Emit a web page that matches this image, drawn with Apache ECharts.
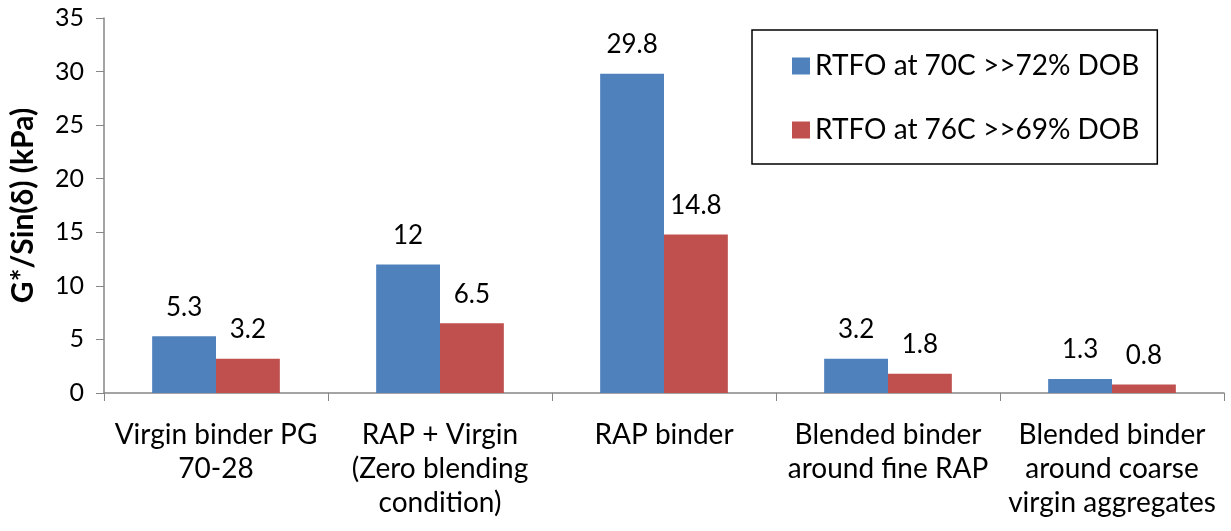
<!DOCTYPE html>
<html><head><meta charset="utf-8">
<script src="https://cdn.jsdelivr.net/npm/echarts@6/dist/echarts.min.js"></script>
<style>html,body{margin:0;padding:0;background:#fff}#c{width:1231px;height:531px}</style>
</head><body><div id="c"></div>
<script>
const categories = ["Virgin binder PG\n70-28", "RAP + Virgin\n(Zero blending\ncondition)", "RAP binder", "Blended binder\naround fine RAP", "Blended binder\naround coarse\nvirgin aggregates"];
const series70 = [5.3, 12, 29.8, 3.2, 1.3];
const series76 = [3.2, 6.5, 14.8, 1.8, 0.8];
const seriesNames = ["RTFO at 70C >>72% DOB", "RTFO at 76C >>69% DOB"];
const yTitle = "G*/Sin(δ) (kPa)";
const FONT = "Lato";
const chart = echarts.init(document.getElementById('c'));
const lbl = {show: true, position: 'top', distance: 16, color: '#000', fontFamily: FONT, fontSize: 26};
chart.setOption({
  animation: false,
  textStyle: {fontFamily: FONT},
  grid: {left: 104, right: 7, top: 18, bottom: 138},
  legend: {
    left: 752, top: 30, orient: 'vertical',
    borderColor: '#000', borderWidth: 1.5,
    padding: [22, 18, 20, 40], itemGap: 36,
    itemWidth: 18, itemHeight: 17, icon: 'rect',
    textStyle: {fontFamily: FONT, fontSize: 28, color: '#000'},
    data: seriesNames
  },
  xAxis: {
    type: 'category', data: categories,
    axisLine: {lineStyle: {color: '#868686', width: 1.5}},
    axisTick: {show: true, length: 8, lineStyle: {color: '#868686'}},
    axisLabel: {interval: 0, color: '#000', fontFamily: FONT, fontSize: 28, lineHeight: 34, margin: 25}
  },
  yAxis: {
    type: 'value', min: 0, max: 35, interval: 5,
    name: yTitle, nameLocation: 'middle', nameGap: 66, nameRotate: 90,
    nameTextStyle: {fontFamily: FONT, fontSize: 30, fontWeight: 'bold', color: '#000'},
    axisLine: {show: true, lineStyle: {color: '#868686', width: 1.5}},
    axisTick: {show: true, length: 8, lineStyle: {color: '#868686'}},
    splitLine: {show: false},
    axisLabel: {color: '#000', fontFamily: FONT, fontSize: 25, margin: 20}
  },
  series: [
    {name: seriesNames[0], type: 'bar', data: series70, barGap: '0%', barCategoryGap: '43%', itemStyle: {color: '#4F81BD'}, label: lbl},
    {name: seriesNames[1], type: 'bar', data: series76, barGap: '0%', barCategoryGap: '43%', itemStyle: {color: '#C0504D'}, label: lbl}
  ]
});
</script></body></html>
